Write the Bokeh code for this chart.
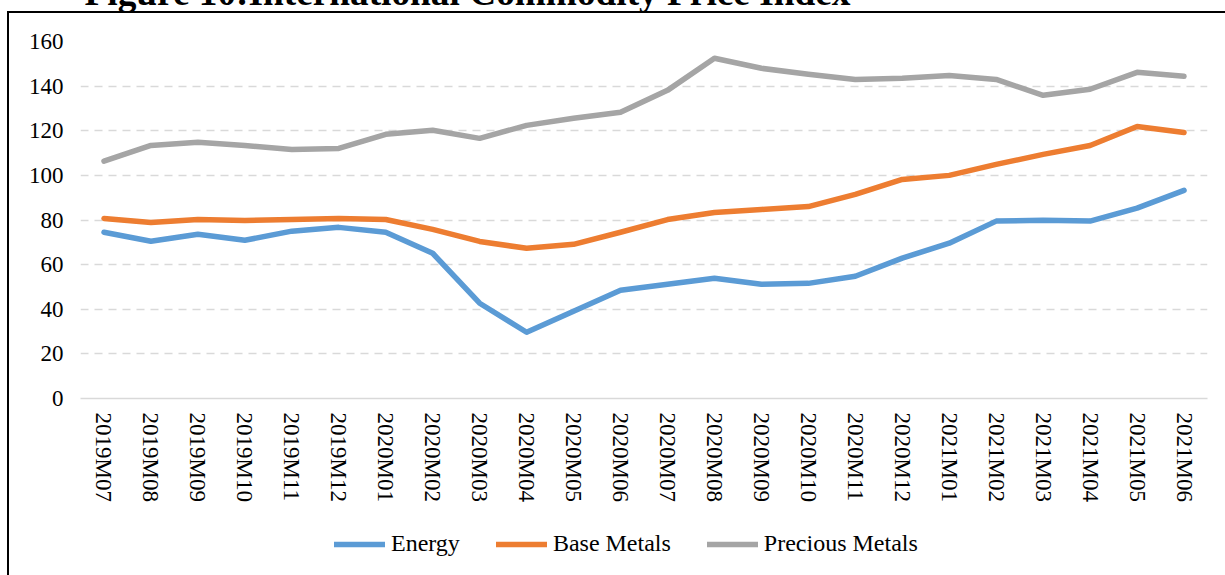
from bokeh.plotting import figure
from bokeh.layouts import column
from bokeh.models import (FactorRange, Range1d, FixedTicker, Legend, LegendItem, Title)
from bokeh.embed import file_html
from bokeh.resources import INLINE

months = ["2019M07", "2019M08", "2019M09", "2019M10", "2019M11", "2019M12",
          "2020M01", "2020M02", "2020M03", "2020M04", "2020M05", "2020M06",
          "2020M07", "2020M08", "2020M09", "2020M10", "2020M11", "2020M12",
          "2021M01", "2021M02", "2021M03", "2021M04", "2021M05", "2021M06"]
energy = [74.5, 70.5, 73.6, 70.9, 75.0, 76.7, 74.5, 65.1, 42.7, 29.7, 39.1, 48.5,
          51.2, 53.9, 51.2, 51.6, 54.8, 62.9, 69.6, 79.5, 79.9, 79.5, 85.3, 93.3]
base_metals = [80.7, 78.9, 80.2, 79.8, 80.2, 80.7, 80.2, 75.8, 70.4, 67.3, 69.1, 74.5,
               80.2, 83.4, 84.7, 86.0, 91.5, 98.2, 100.0, 104.9, 109.4, 113.4, 121.9, 119.2]
precious_metals = [106.4, 113.4, 114.8, 113.4, 111.6, 112.1, 118.4, 120.2, 116.6, 122.4, 125.6, 128.3,
                   138.1, 152.5, 148.0, 145.3, 143.0, 143.5, 144.8, 143.0, 135.9, 138.6, 146.2, 144.4]
y_ticks = [0, 20, 40, 60, 80, 100, 120, 140, 160]
series_names = ["Energy", "Base Metals", "Precious Metals"]
series_colors = ["#5B9BD5", "#ED7D31", "#A5A5A5"]
title_text = "Figure 10:International Commodity Price Index"

FONT = "Liberation Serif"
SHIFT = 64   # the page starts inside the title, as in the reference
LEG_H = 60   # height of the legend strip at the bottom
series = [energy, base_metals, precious_metals]

# ---------------- main chart ----------------
p = figure(x_range=FactorRange(*months), y_range=Range1d(0, 160),
           width=1225, height=575 + SHIFT - LEG_H, frame_width=1127, frame_height=357,
           output_backend="svg", toolbar_location=None,
           min_border_left=80, min_border_right=18, min_border_top=105,
           min_border_bottom=575 + SHIFT - LEG_H - 105 - 357,
           background_fill_alpha=0, border_fill_alpha=0)
p.styles = {
    "background": (f"linear-gradient(#000, #000) 7px {11 + SHIFT}px / 2px 100% no-repeat, "
                   f"linear-gradient(#000, #000) 7px {11 + SHIFT}px / 100% 2px no-repeat, #fff"),
}
p.outline_line_color = None

t = Title(text=title_text, align="left", offset=4, vertical_align="bottom", standoff=57,
          text_font=FONT, text_font_style="bold", text_font_size="37.3px", text_color="black")
p.add_layout(t, "above")

p.yaxis.ticker = FixedTicker(ticks=y_ticks)
p.yaxis.axis_line_color = None
p.yaxis.major_tick_line_color = None
p.yaxis.major_tick_out = 0
p.yaxis.major_tick_in = 0
p.yaxis.minor_tick_line_color = None
p.yaxis.major_label_standoff = 17
p.yaxis.major_label_text_font = FONT
p.yaxis.major_label_text_font_size = "23px"
p.yaxis.major_label_text_color = "black"

p.xaxis.axis_line_color = "#D9D9D9"
p.xaxis.axis_line_width = 1.5
p.xaxis.major_tick_line_color = None
p.xaxis.major_tick_out = 0
p.xaxis.major_tick_in = 0
p.xaxis.minor_tick_line_color = None
p.xaxis.major_label_orientation = -1.5707963267948966
p.xaxis.major_label_standoff = 14
p.xaxis.major_label_text_font = FONT
p.xaxis.major_label_text_font_size = "23px"
p.xaxis.major_label_text_color = "black"

p.xgrid.grid_line_color = None
p.ygrid.grid_line_color = "#D9D9D9"
p.ygrid.grid_line_width = 1.5
p.ygrid.grid_line_dash = "8 6"

for vals, col in zip(series, series_colors):
    p.line(x=months, y=vals, line_color=col, line_width=5.5,
           line_join="round", line_cap="round")

# ---------------- legend strip ----------------
# same series, but this strip's y range lies below all values, so only the legend shows
q = figure(x_range=FactorRange(*months), y_range=Range1d(0, 1), width=1225, height=LEG_H,
           output_backend="svg", toolbar_location=None,
           x_axis_location=None, y_axis_location=None,
           min_border_left=0, min_border_right=0, min_border_top=0, min_border_bottom=0,
           background_fill_alpha=0, border_fill_alpha=0)
q.styles = {"background": "linear-gradient(#000, #000) 7px 0px / 2px 100% no-repeat, #fff"}
q.outline_line_color = None
q.grid.visible = False

items = []
for name, vals, col in zip(series_names, series, series_colors):
    r = q.line(x=months, y=vals, line_color=col, line_width=5.5, line_cap="round")
    items.append(LegendItem(label=name, renderers=[r]))

legend = Legend(items=items, orientation="horizontal", location=(254, 18),
                glyph_width=51, glyph_height=26, label_standoff=6, spacing=36,
                padding=0, margin=0, border_line_color=None, background_fill_alpha=0,
                label_text_font=FONT, label_text_font_size="24px",
                label_text_color="black")
q.add_layout(legend)

layout = column(p, q, spacing=0)
layout.styles = {"margin-top": f"-{SHIFT}px"}

open("out.html", "w").write(file_html(layout, INLINE))
